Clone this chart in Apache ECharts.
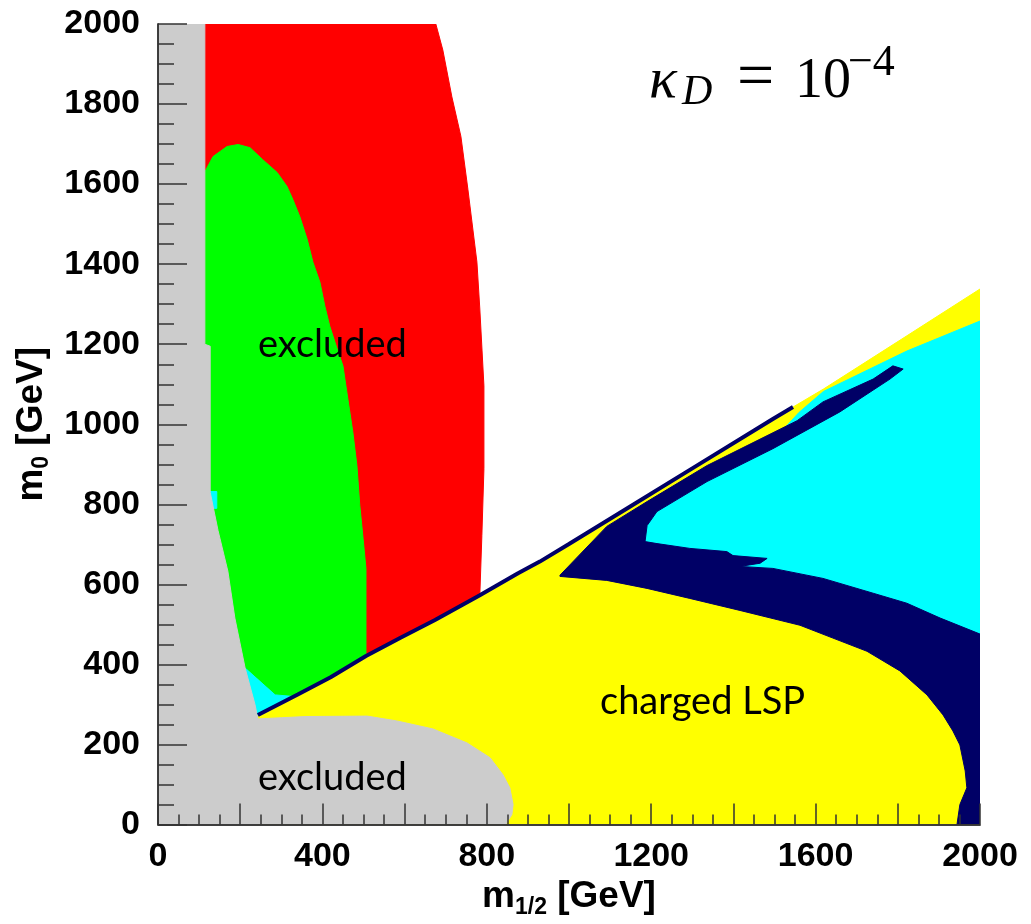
<!DOCTYPE html>
<html><head><meta charset="utf-8">
<script src="https://cdn.jsdelivr.net/npm/echarts@6/dist/echarts.min.js"></script>
<style>html,body{margin:0;padding:0;background:#fff}#c{width:1031px;height:924px}</style>
</head><body><div id="c"></div>
<script>
// tick labels
const xTickLabels = [0, 400, 800, 1200, 1600, 2000];
const yTickLabels = [0, 200, 400, 600, 800, 1000, 1200, 1400, 1600, 1800, 2000];

// region boundaries [m_1/2, m_0] in GeV
const grayRegion = [[0,0],[0,2000],[114,2000],[114,1200],[127,1195],[127,830],[146,735],[170,633],[187,516],[212,391],[236,300],[243,264],[300,267],[360,270],[509,271],[581,259],[669,239],[752,204],[808,167],[839,125],[856,92],[864,50],[861,25],[852,10],[846,0]];
const redRegion = [[114,2000],[676,2000],[693,1935],[715,1818],[737,1719],[754,1587],[776,1405],[783,1288],[793,1096],[793,889],[788,722],[783,573],[674,511],[590,467],[506,421],[100,421],[100,2000]];
const greenRegion = [[100,1631],[114,1631],[134,1669],[168,1694],[195,1699],[224,1691],[255,1661],[290,1629],[314,1594],[328,1562],[345,1519],[363,1462],[377,1405],[394,1355],[406,1295],[418,1245],[436,1188],[450,1146],[462,1063],[474,981],[484,897],[491,797],[499,715],[506,640],[506,419],[420,368],[330,318],[285,324],[212,391],[100,391]];
const cyanSmall = [[200,400],[212,391],[285,324],[330,320],[330,300],[243,266],[200,266]];
const cyanSliver = [[120,832],[143,832],[143,790],[120,790]];
const chargedEdge = [[243,274],[340,325],[420,368],[506,421],[590,467],[674,511],[783,573],[876,628],[929,657],[1000,701],[1140,789],[1300,890],[1497,1014],[1619,1088],[1822,1221],[2000,1338],[2000,0],[243,0]];
const cyanRegion = [[1100,700],[1336,870],[1497,960],[1560,1030],[1619,1082],[1822,1183],[2000,1258],[2000,470],[1400,640],[1185,700]];
const navyBand = [[978,623],[1092,745],[1190,807],[1336,897],[1555,1009],[1618,1056],[1740,1113],[1788,1146],[1813,1138],[1781,1113],[1659,1031],[1496,939],[1336,857],[1214,782],[1190,747],[1185,707],[1214,702],[1294,690],[1384,682],[1399,672],[1482,665],[1465,653],[1416,645],[1496,640],[1618,615],[1740,578],[1822,553],[1903,516],[2000,476],[2000,0],[1944,0],[1951,50],[1968,92],[1964,134],[1951,199],[1934,234],[1910,274],[1871,324],[1805,384],[1725,433],[1642,466],[1562,498],[1416,535],[1294,565],[1190,590],[1092,610],[978,620]];
const navyEdge = [[243,274],[340,325],[420,368],[506,421],[590,467],[674,511],[783,573],[876,628],[929,657],[1000,701],[1140,789],[1300,890],[1497,1014],[1545,1043]];

function poly(name, pts, color) {
  return {
    type: 'custom', name: name, coordinateSystem: 'cartesian2d', data: pts, clip: true, z: 1, silent: true,
    encode: {x: 0, y: 1},
    renderItem: function (params, api) {
      if (params.dataIndex !== 0) return null;
      const points = pts.map(p => api.coord(p));
      return {type: 'polygon', shape: {points: points}, style: {fill: color, stroke: color, lineWidth: 1}};
    }
  };
}

const axisCol = '#333';
const lab = {fontSize: 34, fontWeight: 'bold', fontFamily: 'Liberation Sans', color: '#000'};
const nameRich = {
  m: {fontSize: 37, fontWeight: 'bold', fontFamily: 'Liberation Sans', color: '#000', lineHeight: 44},
  s: {fontSize: 23, fontWeight: 'bold', fontFamily: 'Liberation Sans', color: '#000', lineHeight: 24, verticalAlign: 'bottom'}
};
const chart = echarts.init(document.getElementById('c'), null, {renderer: 'canvas'});
chart.setOption({
  animation: false,
  backgroundColor: '#fff',
  grid: {left: 158, top: 24, right: 51, bottom: 97},
  xAxis: [{
    type: 'value', min: 0, max: 2000, interval: 200, position: 'bottom', z: 5,
    axisLine: {lineStyle: {color: axisCol, width: 1.5}},
    axisTick: {inside: true, length: 21, lineStyle: {color: axisCol, width: 1.5}},
    minorTick: {show: true, splitNumber: 4, length: 10, lineStyle: {color: axisCol, width: 1.5}},
    splitLine: {show: false},
    axisLabel: Object.assign({margin: 15, showMinLabel: true, showMaxLabel: true,
      formatter: v => xTickLabels.indexOf(v) >= 0 ? String(v) : ''}, lab),
    name: '{m|m}{s|1/2}{m| [GeV]}', nameLocation: 'middle', nameGap: 46,
    nameTextStyle: {rich: nameRich}
  }, {
    type: 'value', min: 0, max: 2000, position: 'top', z: 5,
    axisLine: {lineStyle: {color: axisCol, width: 1.5}}, axisTick: {show: false}, axisLabel: {show: false}, splitLine: {show: false}
  }],
  yAxis: [{
    type: 'value', min: 0, max: 2000, interval: 200, position: 'left', z: 5,
    axisLine: {lineStyle: {color: axisCol, width: 1.5}},
    axisTick: {inside: true, length: 29, lineStyle: {color: axisCol, width: 1.5}},
    minorTick: {show: true, splitNumber: 4, length: 16, lineStyle: {color: axisCol, width: 1.5}},
    splitLine: {show: false},
    axisLabel: Object.assign({margin: 18, showMinLabel: true, showMaxLabel: true,
      formatter: v => yTickLabels.indexOf(v) >= 0 ? String(v) : ''}, lab),
    name: '{m|m}{s|0}{m| [GeV]}', nameLocation: 'middle', nameGap: 85, nameRotate: 90,
    nameTextStyle: {rich: nameRich}
  }, {
    type: 'value', min: 0, max: 2000, position: 'right', z: 5,
    axisLine: {lineStyle: {color: axisCol, width: 1.5}}, axisTick: {show: false}, axisLabel: {show: false}, splitLine: {show: false}
  }],
  series: [
    poly('red', redRegion, '#ff0000'),
    poly('green', greenRegion, '#00ff00'),
    poly('cyanSmall', cyanSmall, '#00ffff'),
    poly('cyanSliver', cyanSliver, '#00ffff'),
    poly('charged LSP', chargedEdge, '#ffff00'),
    poly('cyan', cyanRegion, '#00ffff'),
    poly('navy', navyBand, '#000066'),
    poly('gray', grayRegion, '#cccccc'),
    {type: 'line', data: navyEdge, showSymbol: false, z: 1, silent: true, clip: true,
     lineStyle: {color: '#000066', width: 4}}
  ],
  graphic: [
    {type: 'text', z: 20, style: {text: 'excluded', x: 258, y: 345, font: '38px Lato', fill: '#000', verticalAlign: 'middle'}},
    {type: 'text', z: 20, style: {text: 'excluded', x: 258, y: 778, font: '38px Lato', fill: '#000', verticalAlign: 'middle'}},
    {type: 'text', z: 20, style: {text: 'charged LSP', x: 600, y: 702, font: '38px Lato', fill: '#000', verticalAlign: 'middle'}},
    {type: 'text', z: 20, style: {text: 'κ', x: 649, y: 82, font: 'italic 58px "Liberation Serif"', fill: '#000', verticalAlign: 'middle'}},
    {type: 'text', z: 20, style: {text: 'D', x: 682, y: 93, font: 'italic 42px "Liberation Serif"', fill: '#000', verticalAlign: 'middle'}},
    {type: 'text', z: 20, style: {text: '=', x: 737, y: 80, font: '66px "Liberation Serif"', fill: '#000', verticalAlign: 'middle'}},
    {type: 'text', z: 20, style: {text: '10', x: 795, y: 82, font: '56px "Liberation Serif"', fill: '#000', verticalAlign: 'middle'}},
    {type: 'text', z: 20, style: {text: '−4', x: 848, y: 63, font: '44px "Liberation Serif"', fill: '#000', verticalAlign: 'middle'}}
  ]
});
</script></body></html>
